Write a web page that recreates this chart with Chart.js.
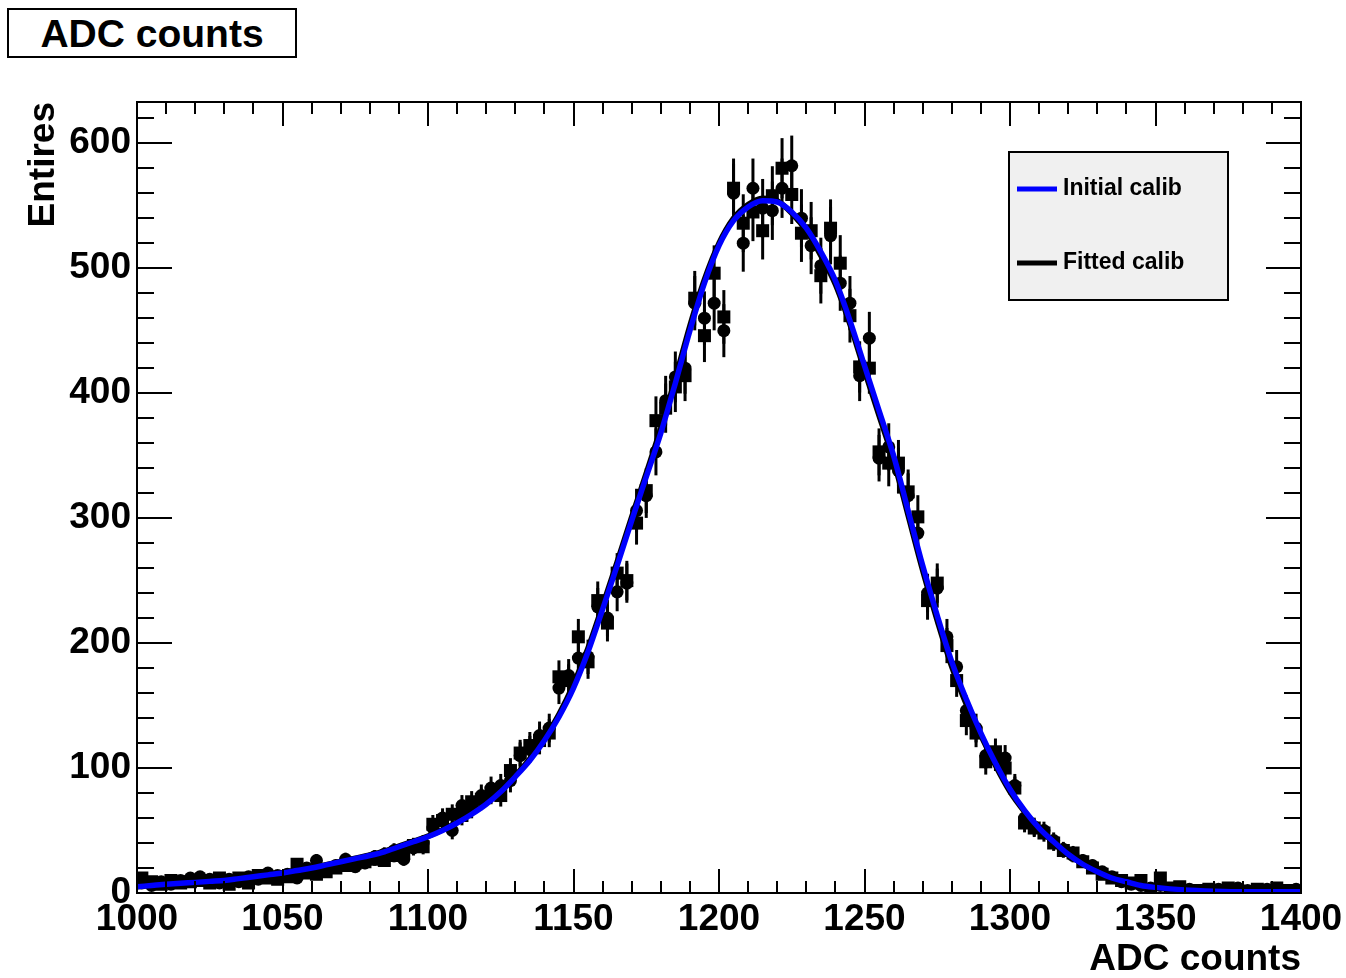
<!DOCTYPE html>
<html>
<head>
<meta charset="utf-8">
<script src="https://cdn.jsdelivr.net/npm/chart.js@4.4.1/dist/chart.umd.min.js"></script>
<style>
html,body{margin:0;padding:0;background:#fff;}
#wrap{position:relative;width:1346px;height:978px;overflow:hidden;}
#c{position:absolute;left:0;top:0;}
#title{position:absolute;left:7px;top:8px;width:286px;height:46px;border:2px solid #000;background:#fff;
  font:bold 39px 'Liberation Sans',Arial,sans-serif;text-align:center;line-height:47px;color:#000;}
</style>
</head>
<body>
<div id="wrap">
<canvas id="c" width="1346" height="978"></canvas>
<div id="title">ADC counts</div>
</div>
<script>
// ---- histogram definition ----
const xMin = 1000;
const xMax = 1400;
const nBins = 120;
const yMax = 633;

// ---- series 1 (circles), bin contents ----
const circleCounts = [
  8, 6, 9, 7, 10, 12, 13, 11, 8, 11,
  9, 13, 11, 16, 14, 15, 12, 20, 26, 19,
  22, 27, 21, 24, 29, 31, 34, 27, 36, 40,
  52, 60, 50, 70, 68, 78, 84, 86, 90, 110,
  115, 126, 132, 164, 174, 188, 189, 229, 220, 241,
  248, 306, 318, 353, 394, 413, 420, 472, 460, 472,
  450, 560, 520, 564, 548, 546, 564, 582, 540, 518,
  502, 526, 488, 472, 414, 444, 348, 357, 338, 318,
  288, 240, 244, 205, 181, 146, 132, 110, 108, 108,
  86, 60, 53, 50, 42, 35, 30, 26, 22, 17,
  13, 9, 7, 6, 4, 6, 3, 2, 3, 1,
  2, 3, 1, 4, 2, 1, 3, 2, 1, 3
];

// ---- series 2 (squares), bin contents ----
const squareCounts = [
  12, 9, 7, 10, 8, 9, 10, 8, 12, 7,
  12, 8, 14, 12, 11, 13, 23, 16, 15, 17,
  20, 22, 24, 25, 27, 26, 30, 32, 38, 37,
  55, 58, 63, 62, 73, 75, 80, 78, 98, 112,
  118, 122, 128, 173, 170, 205, 185, 234, 216, 256,
  250, 296, 322, 378, 388, 405, 414, 476, 446, 496,
  461, 564, 536, 545, 530, 558, 580, 559, 528, 530,
  494, 532, 504, 462, 421, 420, 353, 344, 344, 321,
  301, 234, 248, 198, 170, 138, 128, 105, 113, 100,
  84, 56, 52, 48, 40, 34, 32, 25, 20, 15,
  12, 10, 8, 10, 2, 12, 4, 5, 1, 2,
  3, 1, 4, 2, 1, 3, 2, 4, 2, 1
];

// ---- calibration curves ----
const curveX = [
  1000, 1005, 1010, 1015, 1020, 1025, 1030, 1035, 1040, 1045,
  1050, 1055, 1060, 1065, 1070, 1075, 1080, 1085, 1090, 1095,
  1100, 1105, 1110, 1115, 1120, 1125, 1130, 1135, 1140, 1145,
  1150, 1155, 1160, 1165, 1170, 1175, 1180, 1185, 1190, 1195,
  1200, 1205, 1210, 1215, 1220, 1225, 1230, 1235, 1240, 1245,
  1250, 1255, 1260, 1265, 1270, 1275, 1280, 1285, 1290, 1295,
  1300, 1305, 1310, 1315, 1320, 1325, 1330, 1335, 1340, 1345,
  1350, 1360, 1370, 1380, 1390, 1400
];
const initialCalib = [
  5, 6, 7, 7.8, 8.5, 9.3, 10, 11.5, 13, 14.5,
  16, 18, 20, 22.5, 25, 27.5, 30, 33, 37, 41,
  45, 50, 56, 63, 71, 81, 93, 106, 122, 141,
  164, 193, 227, 262, 298, 333, 368, 408, 450, 488,
  518, 538, 549, 554, 553, 545, 532, 513, 490, 458,
  422, 386, 350, 306, 262, 222, 185, 155, 128, 104,
  83, 66, 52, 41, 31, 23, 17, 12, 9, 6,
  4.5, 2.5, 1.5, 1, 1, 1
];
const fittedCalib = [
  5, 6, 7, 7.8, 8.5, 9.3, 10.1, 11.6, 13.1, 14.6,
  16.2, 18.2, 20.3, 22.7, 25.3, 27.8, 30.4, 33.5, 37.5, 41.5,
  45.5, 50.7, 56.5, 63.7, 72, 82, 94, 107.5, 123.5, 143,
  167, 196, 230, 265, 301, 336, 372, 412, 454, 491,
  520, 540, 551, 556, 554, 544, 530, 510, 487, 455,
  418, 382, 346, 302, 258, 218, 181, 151, 126, 102,
  81, 65, 51.5, 40.5, 31, 23, 17, 12, 9, 6,
  4.5, 2.5, 1.5, 1, 1, 1
];

const seriesLabels = ['Initial calib', 'Fitted calib'];

// ---- build datasets from the arrays ----
const binWidth = (xMax - xMin) / nBins;
const binCentres = circleCounts.map((_, i) => xMin + binWidth * (i + 0.5));
const toPoints = (xs, ys) => ys.map((v, i) => ({x: xs[i], y: v}));

const FONT = "'Liberation Sans', Arial, Helvetica, sans-serif";

const errorBarPlugin = {
  id: 'errorBars',
  beforeDatasetsDraw(chart) {
    const {ctx, chartArea: a, scales: {y}} = chart;
    ctx.save();
    ctx.beginPath();
    ctx.rect(a.left, a.top, a.right - a.left, a.bottom - a.top);
    ctx.clip();
    ctx.strokeStyle = '#000';
    ctx.lineWidth = 3;
    chart.data.datasets.forEach((ds, di) => {
      if (!ds.errorBars) return;
      const meta = chart.getDatasetMeta(di);
      meta.data.forEach((pt, i) => {
        const v = ds.data[i].y;
        const e = Math.sqrt(v);
        ctx.beginPath();
        ctx.moveTo(pt.x, y.getPixelForValue(v + e));
        ctx.lineTo(pt.x, y.getPixelForValue(v - e));
        ctx.stroke();
      });
    });
    ctx.restore();
  }
};

const framePlugin = {
  id: 'rootFrame',
  afterDraw(chart) {
    const {ctx, chartArea: a, scales: {x, y}} = chart;
    ctx.save();
    ctx.strokeStyle = '#000';
    ctx.lineWidth = 2;
    ctx.strokeRect(a.left, a.top, a.right - a.left, a.bottom - a.top);
    ctx.lineWidth = 2;
    // x ticks: major every 50, minor every 10
    const xMajor = 50, xMinor = 10, xMajLen = 24, xMinLen = 12;
    for (let i = 0; i <= (xMax - xMin) / xMinor; i++) {
      const v = xMin + i * xMinor;
      const px = Math.round(x.getPixelForValue(v));
      const len = (v % xMajor === 0) ? xMajLen : xMinLen;
      ctx.beginPath();
      ctx.moveTo(px, a.bottom); ctx.lineTo(px, a.bottom - len);
      ctx.moveTo(px, a.top); ctx.lineTo(px, a.top + len);
      ctx.stroke();
    }
    // y ticks: major every 100, minor every 20
    const yMajor = 100, yMinor = 20, yMajLen = 35, yMinLen = 17;
    for (let i = 0; i * yMinor <= yMax; i++) {
      const v = i * yMinor;
      const py = Math.round(y.getPixelForValue(v));
      const len = (v % yMajor === 0) ? yMajLen : yMinLen;
      ctx.beginPath();
      ctx.moveTo(a.left, py); ctx.lineTo(a.left + len, py);
      ctx.moveTo(a.right, py); ctx.lineTo(a.right - len, py);
      ctx.stroke();
    }
    ctx.restore();
  }
};

const legendPlugin = {
  id: 'rootLegend',
  afterDraw(chart) {
    const ctx = chart.ctx;
    const box = {x: 1009, y: 152, w: 219, h: 148};
    ctx.save();
    ctx.fillStyle = '#f0f0f0';
    ctx.fillRect(box.x, box.y, box.w, box.h);
    ctx.strokeStyle = '#000';
    ctx.lineWidth = 2;
    ctx.strokeRect(box.x, box.y, box.w, box.h);
    const rows = [189, 263];
    const curves = chart.data.datasets.filter(d => d.legendRow !== undefined);
    curves.forEach(ds => {
      const ry = rows[ds.legendRow];
      ctx.strokeStyle = ds.borderColor;
      ctx.lineWidth = 5;
      ctx.beginPath();
      ctx.moveTo(1017, ry); ctx.lineTo(1057, ry);
      ctx.stroke();
      ctx.fillStyle = '#000';
      ctx.font = 'bold 23px ' + FONT;
      ctx.textBaseline = 'middle';
      ctx.textAlign = 'left';
      ctx.fillText(ds.label, 1063, ry);
    });
    ctx.restore();
  }
};

const plainNumber = v => String(v);

const ctx = document.getElementById('c').getContext('2d');
new Chart(ctx, {
  type: 'scatter',
  data: {
    datasets: [
      {
        type: 'line',
        label: seriesLabels[0],
        legendRow: 0,
        data: toPoints(curveX, initialCalib),
        borderColor: '#0000ff',
        borderWidth: 5.5,
        pointRadius: 0,
        cubicInterpolationMode: 'monotone',
        fill: false,
        order: 1
      },
      {
        type: 'line',
        label: seriesLabels[1],
        legendRow: 1,
        data: toPoints(curveX, fittedCalib),
        borderColor: '#000000',
        borderWidth: 5.5,
        pointRadius: 0,
        cubicInterpolationMode: 'monotone',
        fill: false,
        order: 2
      },
      {
        label: 'circles',
        data: toPoints(binCentres, circleCounts),
        errorBars: true,
        pointStyle: 'circle',
        pointRadius: 6.5,
        backgroundColor: '#000',
        borderWidth: 0,
        order: 3
      },
      {
        label: 'squares',
        data: toPoints(binCentres, squareCounts),
        errorBars: true,
        pointStyle: 'rect',
        pointRadius: 9.2,
        backgroundColor: '#000',
        borderWidth: 0,
        order: 4
      }
    ]
  },
  options: {
    responsive: false,
    animation: false,
    devicePixelRatio: 1,
    layout: {padding: {left: 0, top: 102, right: 45, bottom: 0}},
    plugins: {legend: {display: false}, tooltip: {enabled: false}, title: {display: false}},
    scales: {
      x: {
        type: 'linear',
        min: xMin,
        max: xMax,
        grid: {display: false},
        border: {display: false},
        ticks: {
          stepSize: 50,
          includeBounds: false,
          autoSkip: false,
          maxRotation: 0,
          color: '#000',
          padding: -3,
          callback: plainNumber,
          font: {family: FONT, size: 37, weight: 'bold'}
        },
        title: {
          display: true,
          text: 'ADC counts',
          align: 'end',
          color: '#000',
          padding: {top: 0, bottom: 0},
          font: {family: FONT, size: 37, weight: 'bold', lineHeight: 1}
        },
        afterFit(s) { s.height = 85; }
      },
      y: {
        type: 'linear',
        min: 0,
        max: yMax,
        grid: {display: false},
        border: {display: false},
        ticks: {
          stepSize: 100,
          includeBounds: false,
          color: '#000',
          padding: -2,
          callback: plainNumber,
          font: {family: FONT, size: 37, weight: 'bold'}
        },
        title: {
          display: true,
          text: 'Entires',
          align: 'end',
          color: '#000',
          padding: {top: 25, bottom: 0},
          font: {family: FONT, size: 37, weight: 'bold', lineHeight: 1}
        },
        afterFit(s) { s.width = 137; }
      }
    }
  },
  plugins: [errorBarPlugin, framePlugin, legendPlugin]
});
</script>
</body>
</html>
